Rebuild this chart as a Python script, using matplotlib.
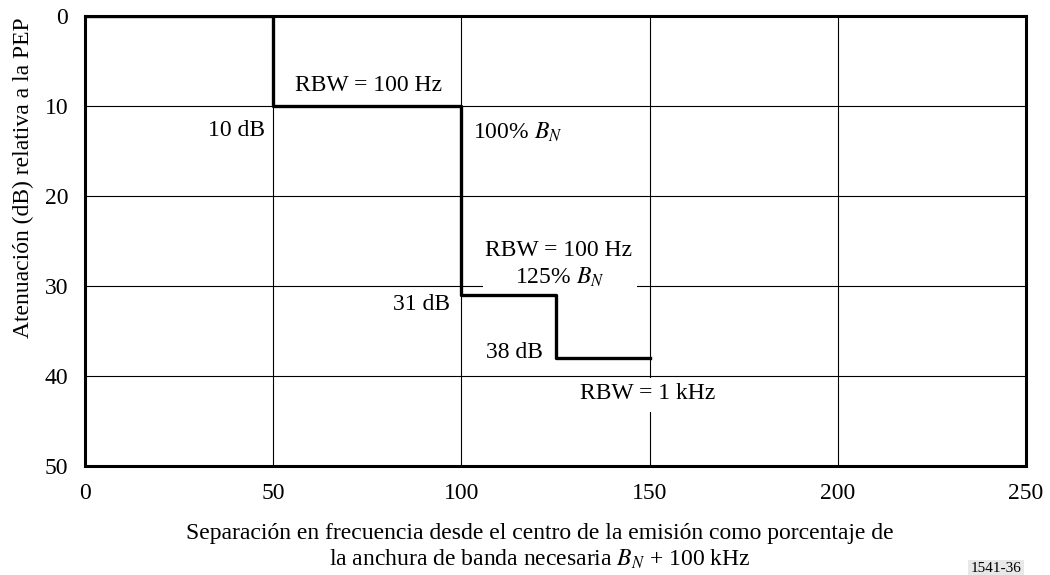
import matplotlib
matplotlib.use("Agg")
import matplotlib.pyplot as plt
from matplotlib.patches import Rectangle

plt.rcParams['font.family'] = ['Liberation Serif', 'DejaVu Serif']
plt.rcParams['mathtext.fontset'] = 'stix'

# mask limits (percent of B_N vs attenuation in dB)
freq = [0, 50, 100, 125, 150]
atten = [0, 10, 31, 38, 38]

x_ticks = [0, 50, 100, 150, 200, 250]
y_ticks = [0, 10, 20, 30, 40, 50]

fs = 17

fig = plt.figure(figsize=(10.5, 5.75), dpi=100)
ax = fig.add_axes([85 / 1050, 1 - 466 / 575, (1026 - 85) / 1050, (466 - 16) / 575])

ax.set_xlim(0, 250)
ax.set_ylim(50, 0)
ax.set_xticks(x_ticks)
ax.set_yticks(y_ticks)
ax.tick_params(length=0, labelsize=fs, pad=12)
ax.grid(True, color='black', linewidth=0.8, zorder=1)
ax.set_axisbelow(True)
for s in ax.spines.values():
    s.set_linewidth(2.2)
    s.set_zorder(5)

ax.step(freq, atten, where='post', color='black', linewidth=2.4, zorder=4)

# white gaps in the grid behind the 125% and 1 kHz labels
ax.add_patch(Rectangle((105.7, 29.4), 40.9, 1.2, facecolor='white',
                       edgecolor='none', zorder=2))
ax.add_patch(Rectangle((148, 40.2), 4, 3.8, facecolor='white',
                       edgecolor='none', zorder=2))

ax.text(75.2, 7.7, 'RBW = 100 Hz', fontsize=fs, ha='center', va='center', zorder=3)
ax.text(47.8, 12.7, '10 dB', fontsize=fs, ha='right', va='center', zorder=3)
ax.text(103.1, 12.9, '100% $B_N$', fontsize=fs, ha='left', va='center', zorder=3)
ax.text(125.9, 26.0, 'RBW = 100 Hz', fontsize=fs, ha='center', va='center', zorder=3)
ax.text(126.2, 29.0, '125% $B_N$', fontsize=fs, ha='center', va='center', zorder=3)
ax.text(97.0, 32.1, '31 dB', fontsize=fs, ha='right', va='center', zorder=3)
ax.text(121.7, 37.4, '38 dB', fontsize=fs, ha='right', va='center', zorder=3)
ax.text(149.6, 41.9, 'RBW = 1 kHz', fontsize=fs, ha='center', va='center', zorder=3)

fig.text(23 / 1050, 1 - 178 / 575, 'Atenuación (dB) relativa a la PEP',
         fontsize=fs, rotation=90, ha='center', va='center')
fig.text(540 / 1050, 1 - 547 / 575,
         'Separación en frecuencia desde el centro de la emisión como porcentaje de\n'
         'la anchura de banda necesaria $B_N$ + 100 kHz',
         fontsize=fs, ha='center', va='center', multialignment='center', linespacing=1.25)
fig.text(996 / 1050, 1 - 569 / 575, '1541-36', fontsize=11, ha='center', va='center',
         bbox=dict(facecolor='#e8e8e8', edgecolor='none', boxstyle='square,pad=0.15'))

fig.savefig('out.png', dpi=100)
